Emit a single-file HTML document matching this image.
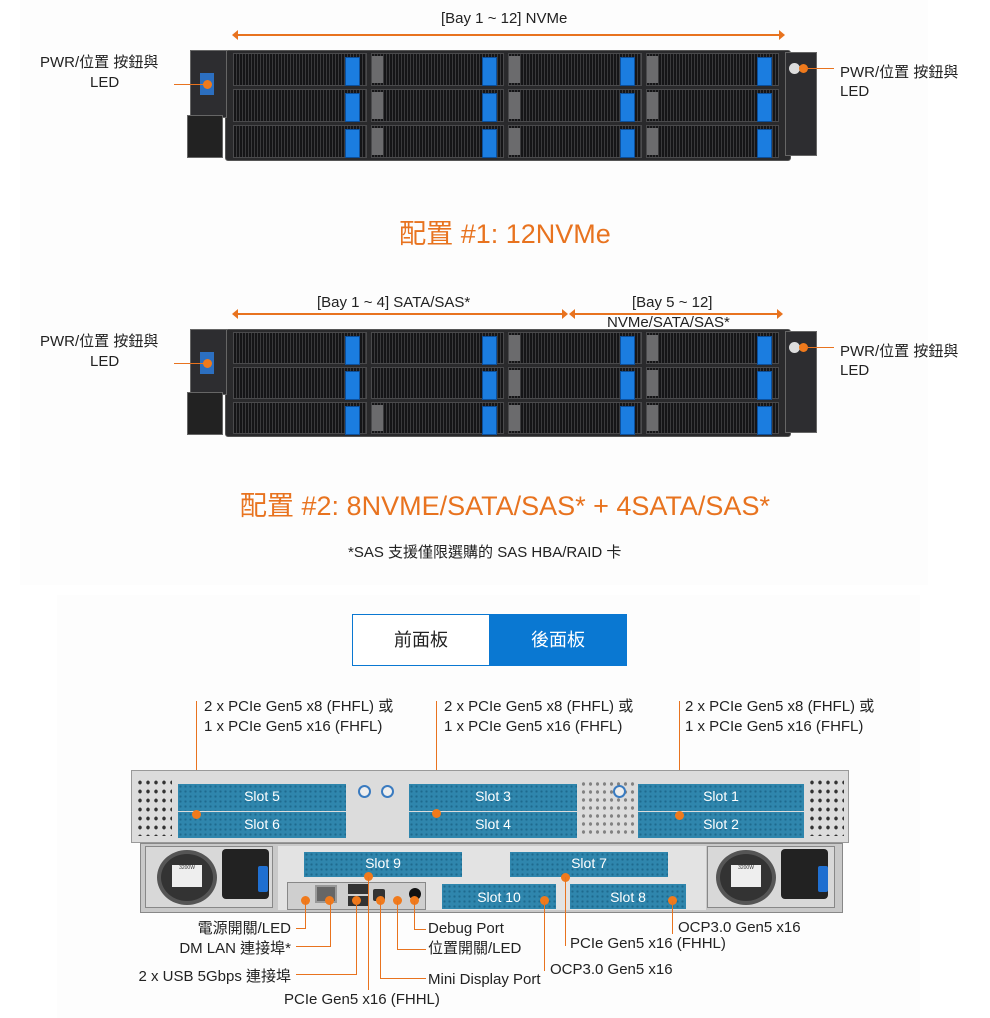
<!DOCTYPE html>
<html><head><meta charset="utf-8">
<style>
*{margin:0;padding:0;box-sizing:border-box}
body{width:990px;height:1018px;background:#fff;position:relative;overflow:hidden;font-family:"Liberation Sans","Noto Sans CJK TC",sans-serif;color:#222}
.a{position:absolute}
.t{position:absolute;font-size:15px;white-space:nowrap;color:#222;line-height:1}
.r{text-align:right;width:260px}
.or{background:#e8731f}
.dot{position:absolute;width:9px;height:9px;border-radius:50%;background:#f07a1c}
.srv{position:absolute;background:#2a2a2c;border:1px solid #555}
.ear{position:absolute;background:#2d2d30;border:1px solid #666}
.grid{position:absolute;display:grid;grid-template-columns:repeat(4,1fr);grid-template-rows:repeat(3,1fr);gap:3px 4px}
.dr{position:relative;background:#151517;border:1px solid #4a4a4c;background-image:repeating-linear-gradient(90deg,#151517 0 2px,#3a3a3c 2px 3px)}
.dr.g::before{content:"";position:absolute;left:0;top:2px;bottom:2px;width:11px;background:#6b6b6d}
.dr::after{content:"";position:absolute;right:6px;top:3px;width:13px;height:27px;background:#1b7de0;border:1px solid #0d4f9a}
.title{position:absolute;left:0;width:1010px;text-align:center;color:#e8731f;font-size:27px}
.slot{position:absolute;background:#2f86ad;color:#fff;font-size:14px;text-align:center;background-image:radial-gradient(#1e6a8e 1px,transparent 1.3px);background-size:5px 5px}
.slot span{background:none;position:relative;top:4px}
.psu{position:absolute;background:#cfcfcf;border:1px solid #888}
</style></head><body>
<div class="a" style="left:20px;top:0;width:908px;height:585px;background:#fdfdfd"></div>
<div class="a" style="left:57px;top:595px;width:863px;height:423px;background:#fdfdfd"></div>

<!-- Config 1 -->
<div class="t" style="left:441px;top:11px">[Bay 1 ~ 12] NVMe</div>
<div class="a or" style="left:234px;top:34px;width:546px;height:1.5px"></div>
<div class="a" style="left:232px;top:30px;border:5px solid transparent;border-right:6px solid #e8731f;border-left:0"></div>
<div class="a" style="left:779px;top:30px;border:5px solid transparent;border-left:6px solid #e8731f;border-right:0"></div>

<div class="t" style="left:40px;top:55px">PWR/位置 按鈕與</div>
<div class="t" style="left:90px;top:75px">LED</div>
<div class="srv" style="left:225px;top:50px;width:566px;height:111px;border-radius:3px"></div>
<div class="ear" style="left:190px;top:50px;width:37px;height:68px"></div>
<div class="ear" style="left:187px;top:115px;width:36px;height:43px;background:#222"></div>
<div class="a" style="left:200px;top:73px;width:14px;height:22px;background:#2c6fc0"></div>
<div class="ear" style="left:785px;top:52px;width:32px;height:104px"></div>
<div class="a" style="left:789px;top:63px;width:11px;height:11px;border-radius:50%;background:#ddd"></div>
<div class="a or" style="left:174px;top:84px;width:32px;height:1px"></div>
<div class="dot" style="left:203px;top:80px"></div>
<div class="dot" style="left:799px;top:64px"></div>
<div class="a or" style="left:806px;top:68px;width:28px;height:1px"></div>
<div class="t" style="left:840px;top:65px">PWR/位置 按鈕與</div>
<div class="t" style="left:840px;top:84px">LED</div>
<div class="grid" style="left:233px;top:53px;width:546px;height:105px">
<div class="dr"></div><div class="dr g"></div><div class="dr g"></div><div class="dr g"></div>
<div class="dr"></div><div class="dr g"></div><div class="dr g"></div><div class="dr g"></div>
<div class="dr"></div><div class="dr g"></div><div class="dr g"></div><div class="dr g"></div>
</div>
<div class="title" style="top:212px">配置 #1: 12NVMe</div>

<!-- Config 2 -->
<div class="t" style="left:317px;top:295px">[Bay 1 ~ 4] SATA/SAS*</div>
<div class="t" style="left:632px;top:295px">[Bay 5 ~ 12]</div>
<div class="t" style="left:607px;top:315px">NVMe/SATA/SAS*</div>
<div class="a or" style="left:234px;top:313px;width:332px;height:1.5px"></div>
<div class="a or" style="left:572px;top:313px;width:206px;height:1.5px"></div>
<div class="a" style="left:232px;top:309px;border:5px solid transparent;border-right:6px solid #e8731f;border-left:0"></div>
<div class="a" style="left:562px;top:309px;border:5px solid transparent;border-left:6px solid #e8731f;border-right:0"></div>
<div class="a" style="left:569px;top:309px;border:5px solid transparent;border-right:6px solid #e8731f;border-left:0"></div>
<div class="a" style="left:777px;top:309px;border:5px solid transparent;border-left:6px solid #e8731f;border-right:0"></div>

<div class="t" style="left:40px;top:334px">PWR/位置 按鈕與</div>
<div class="t" style="left:90px;top:354px">LED</div>
<div class="srv" style="left:225px;top:329px;width:566px;height:108px;border-radius:3px"></div>
<div class="ear" style="left:190px;top:329px;width:37px;height:66px"></div>
<div class="ear" style="left:187px;top:392px;width:36px;height:43px;background:#222"></div>
<div class="a" style="left:200px;top:352px;width:14px;height:22px;background:#2c6fc0"></div>
<div class="ear" style="left:785px;top:331px;width:32px;height:102px"></div>
<div class="a" style="left:789px;top:342px;width:11px;height:11px;border-radius:50%;background:#ddd"></div>
<div class="a or" style="left:174px;top:363px;width:32px;height:1px"></div>
<div class="dot" style="left:203px;top:359px"></div>
<div class="dot" style="left:799px;top:343px"></div>
<div class="a or" style="left:806px;top:347px;width:28px;height:1px"></div>
<div class="t" style="left:840px;top:344px">PWR/位置 按鈕與</div>
<div class="t" style="left:840px;top:363px">LED</div>
<div class="grid" style="left:233px;top:332px;width:546px;height:102px">
<div class="dr"></div><div class="dr"></div><div class="dr g"></div><div class="dr g"></div>
<div class="dr"></div><div class="dr"></div><div class="dr g"></div><div class="dr g"></div>
<div class="dr"></div><div class="dr g"></div><div class="dr g"></div><div class="dr g"></div>
</div>
<div class="title" style="top:484px">配置 #2: 8NVME/SATA/SAS* + 4SATA/SAS*</div>
<div class="t" style="left:348px;top:545px;font-size:15px">*SAS 支援僅限選購的 SAS HBA/RAID 卡</div>

<!-- Tabs -->
<div class="a" style="left:352px;top:614px;width:138px;height:52px;border:1px solid #0a78d2;background:#fff;text-align:center;line-height:50px;font-size:18px">前面板</div>
<div class="a" style="left:489px;top:614px;width:138px;height:52px;background:#0a78d2;color:#fff;text-align:center;line-height:52px;font-size:18px">後面板</div>

<!-- top rear labels -->
<div class="a or" style="left:196px;top:701px;width:1px;height:114px"></div>
<div class="t" style="left:204px;top:699px">2 x PCIe Gen5 x8 (FHFL) 或</div>
<div class="t" style="left:204px;top:719px">1 x PCIe Gen5 x16 (FHFL)</div>
<div class="a or" style="left:436px;top:701px;width:1px;height:114px"></div>
<div class="t" style="left:444px;top:699px">2 x PCIe Gen5 x8 (FHFL) 或</div>
<div class="t" style="left:444px;top:719px">1 x PCIe Gen5 x16 (FHFL)</div>
<div class="a or" style="left:679px;top:701px;width:1px;height:114px"></div>
<div class="t" style="left:685px;top:699px">2 x PCIe Gen5 x8 (FHFL) 或</div>
<div class="t" style="left:685px;top:719px">1 x PCIe Gen5 x16 (FHFL)</div>

<!-- rear server -->
<div class="a" style="left:131px;top:770px;width:718px;height:73px;background:#dcdcdc;border:1px solid #999"></div>
<div class="a" style="left:136px;top:778px;width:36px;height:58px;background-image:radial-gradient(#333 1.5px,transparent 2px);background-size:8px 9px"></div>
<div class="a" style="left:808px;top:778px;width:36px;height:58px;background-image:radial-gradient(#333 1.5px,transparent 2px);background-size:8px 9px"></div>
<div class="a" style="left:580px;top:780px;width:55px;height:58px;background-image:radial-gradient(#444 1.3px,transparent 1.8px);background-size:7px 8px;opacity:.6"></div>
<div class="slot" style="left:178px;top:784px;width:168px;height:27px"><span>Slot 5</span></div>
<div class="slot" style="left:178px;top:812px;width:168px;height:26px"><span>Slot 6</span></div>
<div class="slot" style="left:409px;top:784px;width:168px;height:27px"><span>Slot 3</span></div>
<div class="slot" style="left:409px;top:812px;width:168px;height:26px"><span>Slot 4</span></div>
<div class="slot" style="left:638px;top:784px;width:166px;height:27px"><span>Slot 1</span></div>
<div class="slot" style="left:638px;top:812px;width:166px;height:26px"><span>Slot 2</span></div>
<div class="a" style="left:358px;top:785px;width:13px;height:13px;border-radius:50%;background:#eee;border:2px solid #3a7bc0"></div>
<div class="a" style="left:381px;top:785px;width:13px;height:13px;border-radius:50%;background:#eee;border:2px solid #3a7bc0"></div>
<div class="a" style="left:613px;top:785px;width:13px;height:13px;border-radius:50%;background:#eee;border:2px solid #3a7bc0"></div>

<div class="a" style="left:140px;top:843px;width:703px;height:70px;background:#c9c9c9;border:1px solid #888"></div>
<div class="psu" style="left:145px;top:846px;width:128px;height:62px;background:#d8d8d8"></div>
<div class="a" style="left:157px;top:850px;width:60px;height:55px;border-radius:50%;background:#333;border:4px solid #555"></div>
<div class="a" style="left:172px;top:865px;width:30px;height:22px;background:#eee;font-size:5px;color:#333;text-align:center">3200W</div>
<div class="a" style="left:222px;top:849px;width:47px;height:50px;background:#222;border-radius:4px"></div>
<div class="a" style="left:258px;top:866px;width:10px;height:26px;background:#1f6fd0;border-radius:2px"></div>
<div class="psu" style="left:707px;top:846px;width:128px;height:62px;background:#d8d8d8"></div>
<div class="a" style="left:716px;top:850px;width:60px;height:55px;border-radius:50%;background:#333;border:4px solid #555"></div>
<div class="a" style="left:731px;top:865px;width:30px;height:22px;background:#eee;font-size:5px;color:#333;text-align:center">3200W</div>
<div class="a" style="left:781px;top:849px;width:47px;height:50px;background:#222;border-radius:4px"></div>
<div class="a" style="left:818px;top:866px;width:10px;height:26px;background:#1f6fd0;border-radius:2px"></div>
<div class="a" style="left:278px;top:846px;width:428px;height:64px;background:#e3e3e3"></div>
<div class="slot" style="left:304px;top:852px;width:158px;height:25px"><span style="top:3px">Slot 9</span></div>
<div class="slot" style="left:510px;top:852px;width:158px;height:25px"><span style="top:3px">Slot 7</span></div>
<div class="slot" style="left:442px;top:884px;width:114px;height:25px"><span style="top:5px">Slot 10</span></div>
<div class="slot" style="left:570px;top:884px;width:116px;height:25px"><span style="top:5px">Slot 8</span></div>
<div class="a" style="left:287px;top:882px;width:139px;height:28px;background:#cfcfcf;border:1px solid #888"></div>
<div class="a" style="left:315px;top:885px;width:22px;height:18px;background:#666;border:2px solid #999"></div>
<div class="a" style="left:348px;top:884px;width:20px;height:10px;background:#333"></div>
<div class="a" style="left:348px;top:896px;width:20px;height:10px;background:#333"></div>
<div class="a" style="left:373px;top:889px;width:12px;height:12px;background:#333;border-radius:2px"></div>
<div class="a" style="left:409px;top:888px;width:12px;height:12px;background:#111;border-radius:50%"></div>

<!-- dots on rear -->
<div class="dot" style="left:192px;top:810px"></div>
<div class="dot" style="left:432px;top:809px"></div>
<div class="dot" style="left:675px;top:811px"></div>
<div class="dot" style="left:364px;top:872px"></div>
<div class="dot" style="left:561px;top:873px"></div>
<div class="dot" style="left:301px;top:896px"></div>
<div class="dot" style="left:325px;top:896px"></div>
<div class="dot" style="left:352px;top:896px"></div>
<div class="dot" style="left:376px;top:896px"></div>
<div class="dot" style="left:393px;top:896px"></div>
<div class="dot" style="left:410px;top:896px"></div>
<div class="dot" style="left:540px;top:896px"></div>
<div class="dot" style="left:668px;top:896px"></div>

<!-- bottom leader lines -->
<div class="a or" style="left:305px;top:901px;width:1px;height:28px"></div>
<div class="a or" style="left:296px;top:928px;width:10px;height:1px"></div>
<div class="a or" style="left:330px;top:901px;width:1px;height:46px"></div>
<div class="a or" style="left:296px;top:946px;width:35px;height:1px"></div>
<div class="a or" style="left:356px;top:901px;width:1px;height:74px"></div>
<div class="a or" style="left:296px;top:974px;width:61px;height:1px"></div>
<div class="a or" style="left:368px;top:877px;width:1px;height:113px"></div>
<div class="a or" style="left:380px;top:901px;width:1px;height:78px"></div>
<div class="a or" style="left:380px;top:978px;width:46px;height:1px"></div>
<div class="a or" style="left:397px;top:901px;width:1px;height:49px"></div>
<div class="a or" style="left:397px;top:949px;width:29px;height:1px"></div>
<div class="a or" style="left:414px;top:901px;width:1px;height:29px"></div>
<div class="a or" style="left:414px;top:929px;width:12px;height:1px"></div>
<div class="a or" style="left:544px;top:901px;width:1px;height:70px"></div>
<div class="a or" style="left:565px;top:877px;width:1px;height:69px"></div>
<div class="a or" style="left:672px;top:901px;width:1px;height:33px"></div>

<div class="t r" style="left:31px;top:921px">電源開關/LED</div>
<div class="t r" style="left:31px;top:941px">DM LAN 連接埠*</div>
<div class="t r" style="left:31px;top:969px">2 x USB 5Gbps 連接埠</div>
<div class="t" style="left:284px;top:992px">PCIe Gen5 x16 (FHHL)</div>
<div class="t" style="left:428px;top:921px">Debug Port</div>
<div class="t" style="left:428px;top:941px">位置開關/LED</div>
<div class="t" style="left:428px;top:972px">Mini Display Port</div>
<div class="t" style="left:550px;top:962px">OCP3.0 Gen5 x16</div>
<div class="t" style="left:570px;top:936px">PCIe Gen5 x16 (FHHL)</div>
<div class="t" style="left:678px;top:920px">OCP3.0 Gen5 x16</div>
</body></html>
